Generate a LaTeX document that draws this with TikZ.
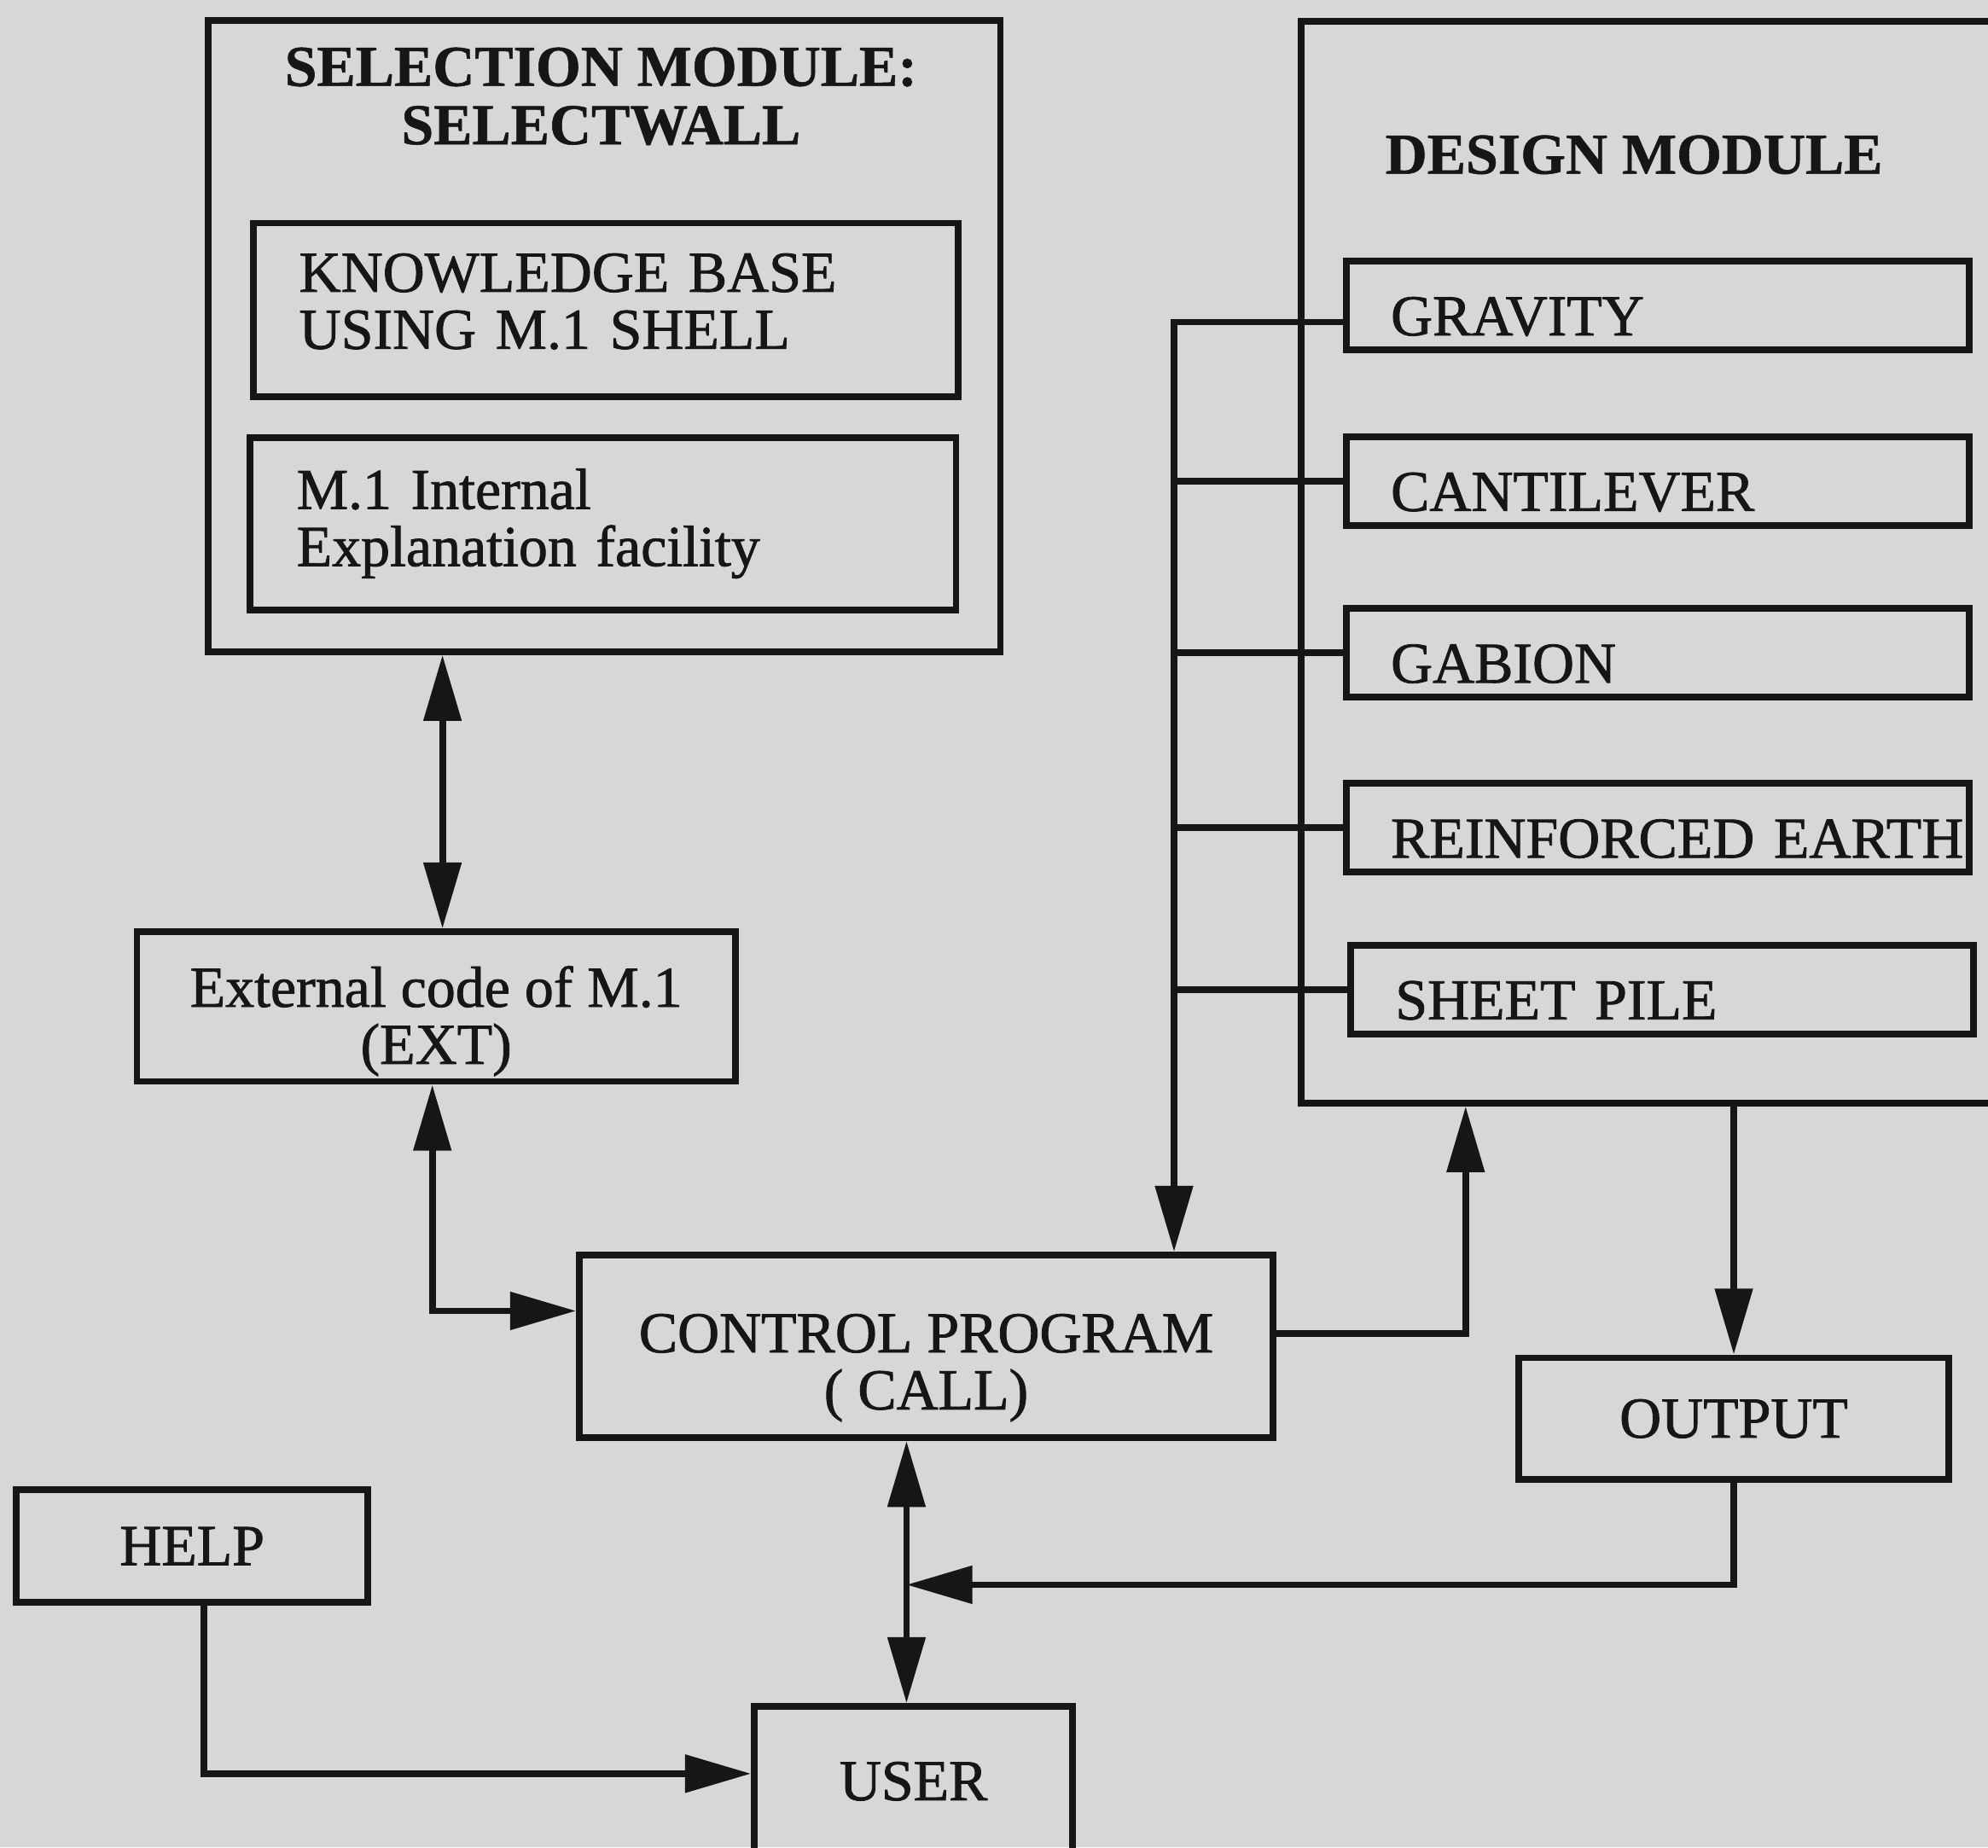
\documentclass[tikz,border=0pt]{standalone}
\usepackage{fontspec}
\setmainfont{Liberation Serif}[UprightFeatures={FakeBold=1.2}, BoldFeatures={FakeBold=0.8}]
\usetikzlibrary{arrows.meta}

\definecolor{paper}{RGB}{213,215,216}
\definecolor{ink}{RGB}{22,22,22}

\tikzset{
    box/.style={draw=ink, line width=1.5pt, rectangle, inner sep=0pt, text=ink},
    listbox/.style={box, align=left, inner xsep=0.36cm},
    typebox/.style={box, minimum width=4.91cm, minimum height=0.70cm,
        text width=4.21cm, inner xsep=0.35cm, align=left,
        text height=0.47cm, text depth=0pt},
    wire/.style={draw=ink, line width=1.5pt},
    arrow/.style={wire, -{Triangle[length=0.52cm, width=0.29cm]}},
    darrow/.style={wire, {Triangle[length=0.52cm, width=0.29cm]}-{Triangle[length=0.52cm, width=0.29cm]}},
    modtitle/.style={font=\fontsize{13}{13.1}\selectfont\bfseries, text=ink, inner sep=0pt, align=center}
}

\begin{document}
\begin{tikzpicture}[x=0.1mm, y=-0.1mm, font=\fontsize{13}{12.8}\selectfont]

    % 1. Fundo (papel cinza) e moldura da figura
    \path[fill=paper, use as bounding box] (0,0) rectangle (1568,1457);
    \clip (0,0) rectangle (1568,1457);

    % 2. Módulo de seleção (caixa externa com duas caixas internas)
    \node[box, minimum width=6.25cm, minimum height=4.98cm] (selmod) at (476.5,265) {};
    \node[modtitle] (seltitle) at (474,76) {SELECTION MODULE:\\SELECTWALL};
    \node[listbox, minimum width=5.56cm, minimum height=1.37cm, text width=4.84cm] (kb) at (478,244.5)
        {KNOWLEDGE BASE\\USING M.1 SHELL\rule[-0.14cm]{0pt}{0pt}};
    \node[listbox, minimum width=5.57cm, minimum height=1.36cm, text width=4.83cm] (expl) at (475.5,413)
        {M.1 Internal\\Explanation facility};

    % 3. Código externo e programa de controle
    \node[box, minimum width=4.72cm, minimum height=1.18cm, align=center] (ext) at (344,794)
        {\rule{0pt}{0.55cm}External code of M.1\\(EXT)};
    \node[box, minimum width=5.47cm, minimum height=1.44cm, align=center] (control) at (730.5,1062)
        {\rule{0pt}{0.64cm}CONTROL PROGRAM\\( CALL)};

    % 4. Módulo de projeto (a borda direita sai da figura)
    \node[box, minimum width=5.74cm, minimum height=8.53cm] (design) at (1313,443.5) {};
    \node[modtitle, anchor=base west] (destitle) at (1092,137) {DESIGN MODULE};
    \node[typebox] (grav)  at (1307.5,241)   {GRAVITY};
    \node[typebox] (cant)  at (1307.5,379.5) {CANTILEVER};
    \node[typebox] (gab)   at (1307.5,515)   {GABION};
    \node[typebox] (reinf) at (1307.5,653)   {\mbox{REINFORCED EARTH}};
    \node[typebox] (sheet) at (1311,780.5)   {SHEET PILE};

    % 5. Saída, ajuda e usuário
    \node[box, minimum width=3.39cm, minimum height=0.96cm] (output) at (1367.5,1119) {OUTPUT};
    \node[box, minimum width=2.77cm, minimum height=0.89cm] (help) at (151.5,1219.5) {HELP};
    \node[box, minimum width=2.51cm, minimum height=1.18cm] (user) at (720.5,1405) {USER};

    % 6. Pontos auxiliares das ligações
    \coordinate (busx)    at (926,0);
    \coordinate (upx)     at (1156,0);
    \coordinate (selx)    at (349,0);
    \coordinate (extx)    at (341,0);
    \coordinate (userx)   at (715,0);
    \coordinate (helpx)   at (161,0);
    \coordinate (gravrow) at (0,254);
    \coordinate (extrow)  at (0,1034);
    \coordinate (ctlrow)  at (0,1052);
    \coordinate (helprow) at (0,1399);
    \coordinate (merge)   at (715,1250);

    % 7. Ligações
    \draw[darrow] (selx |- selmod.south) -- (selx |- ext.north);
    \draw[darrow] (extx |- ext.south) |- (control.west |- extrow);
    \draw[arrow] (grav.west |- gravrow) -| (busx |- control.north);
    \foreach \t in {cant, gab, reinf, sheet}
        \draw[wire] (busx |- \t.west) -- (\t.west);
    \draw[arrow] (control.east |- ctlrow) -| (upx |- design.south);
    \draw[arrow] (design.south -| output.north) -- (output.north);
    \draw[darrow] (userx |- control.south) -- (userx |- user.north);
    \draw[arrow] (output.south) |- (merge);
    \draw[arrow] (helpx |- help.south) |- (user.west |- helprow);

\end{tikzpicture}
\end{document}
